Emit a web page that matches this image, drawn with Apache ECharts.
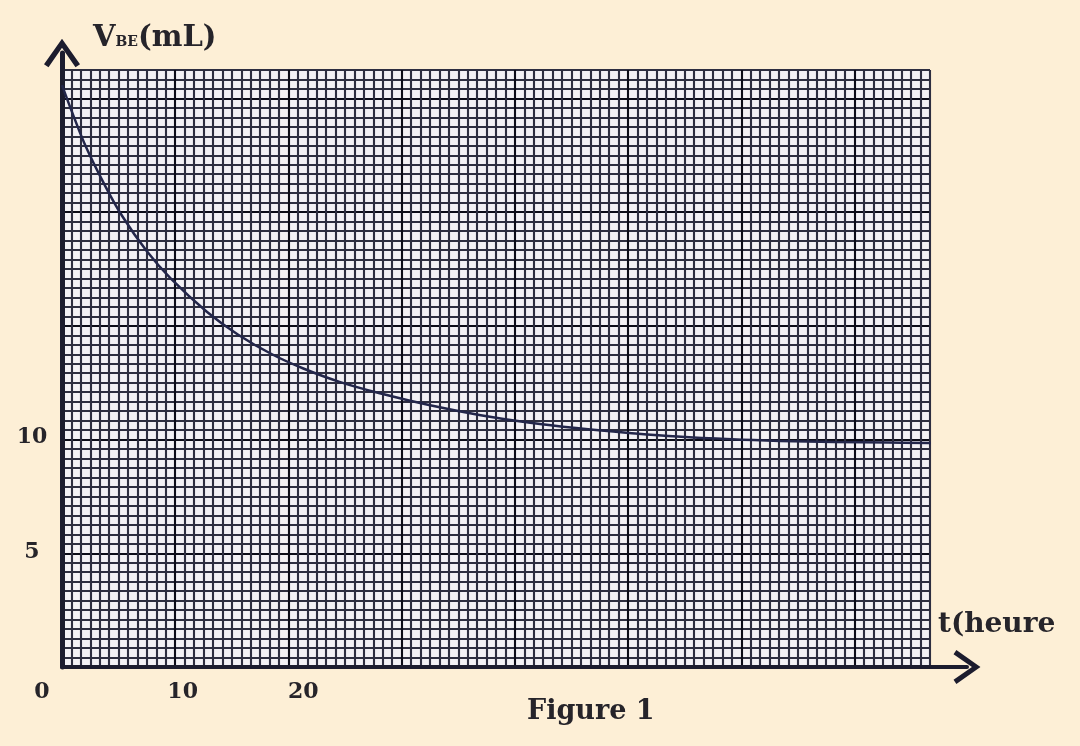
<!DOCTYPE html>
<html>
<head>
<meta charset="utf-8">
<script src="https://cdn.jsdelivr.net/npm/echarts@6/dist/echarts.min.js"></script>
<style>
    html, body { margin: 0; padding: 0; background: #fdefd6; }
    #figure1 { width: 1080px; height: 746px; }
</style>
</head>
<body>
<div id="figure1"></div>
<script>
// courbe V_BE = f(t)
var tValues = [0, 1, 2, 3.5, 5, 7, 9, 12, 14.6, 17.4, 20, 23, 26.5, 30.5, 34.7, 38.8, 43, 47, 51, 55.5, 59.5, 64, 68.5, 72];
var vbeValues = [25.3, 23.9, 22.6, 21.0, 19.6, 18.1, 16.9, 15.45, 14.45, 13.6, 12.98, 12.4, 11.88, 11.38, 10.95, 10.62, 10.37, 10.18, 10.02, 9.9, 9.83, 9.78, 9.76, 9.74];
var xTickLabels = [0, 10, 20];
var yTickLabels = [5, 10];

var serif = 'DejaVu Serif';
var ink = '#26242a';
var axisColor = '#1c1c2e';

// papier millimetre: un trait plus fonce toutes les 12 cases
function paperColors() {
    var c = ['#0c0c18'];
    for (var i = 1; i < 12; i++) c.push('#2e2e40');
    return c;
}

var chart = echarts.init(document.getElementById('figure1'));

var points = tValues.map(function (t, i) {
    return [t, vbeValues[i]];
});

var chevron = 'path://M0,17 L12,0 L24,17 L21,19 L12,6 L3,19 Z';

var option = {
    backgroundColor: '#fdefd6',
    animation: false,
    title: {
        text: 'Figure 1',
        left: 522,
        top: 693,
        textStyle: { fontFamily: serif, fontWeight: 'bold', fontSize: 27, color: ink }
    },
    grid: [{
        // feuille quadrillee
        left: 62, top: 70, width: 868, height: 597,
        show: true, backgroundColor: '#f3f1f5', borderWidth: 0
    }, {
        // axes du graphe
        left: 62, top: 53, right: 113, bottom: 79
    }],
    xAxis: [{
        gridIndex: 0, type: 'value', min: 0, max: 92, interval: 1,
        axisLine: { show: false }, axisTick: { show: false }, axisLabel: { show: false },
        splitLine: { show: true, lineStyle: { color: paperColors(), width: 2.1 } }
    }, {
        gridIndex: 1, type: 'value', min: 0, max: 75, z: 5,
        name: 't(heure',
        nameLocation: 'end',
        nameGap: -29,
        nameTextStyle: {
            fontFamily: serif, fontWeight: 'bold', fontSize: 28, color: ink,
            align: 'left', verticalAlign: 'bottom', padding: [0, 0, 28, 0]
        },
        axisLine: {
            show: true, symbol: ['none', chevron], symbolSize: [34, 32],
            lineStyle: { color: axisColor, width: 4 }
        },
        axisTick: { show: false },
        splitLine: { show: false },
        axisLabel: {
            customValues: xTickLabels,
            margin: 14,
            fontFamily: serif, fontWeight: 'bold', fontSize: 22, color: ink,
            formatter: function (v) {
                return v === 0 ? '{z|0}' : '{n|' + v + '}';
            },
            rich: {
                z: { fontFamily: serif, fontWeight: 'bold', fontSize: 22, color: ink, padding: [0, 40, 0, 0] },
                n: { fontFamily: serif, fontWeight: 'bold', fontSize: 22, color: ink }
            }
        }
    }],
    yAxis: [{
        gridIndex: 0, type: 'value', min: 0, max: 63, interval: 1,
        axisLine: { show: false }, axisTick: { show: false }, axisLabel: { show: false },
        splitLine: { show: true, lineStyle: { color: paperColors(), width: 2.1 } }
    }, {
        gridIndex: 1, type: 'value', min: 0, max: 26.7, z: 5,
        name: '{a|V}{b|BE}{a|(mL)}',
        nameLocation: 'end',
        nameGap: 0,
        nameTextStyle: {
            align: 'left', verticalAlign: 'bottom', padding: [0, 0, 0, 31],
            rich: {
                a: { fontFamily: serif, fontWeight: 'bold', fontSize: 29, color: ink },
                b: { fontFamily: serif, fontWeight: 'bold', fontSize: 14, color: ink, verticalAlign: 'bottom', padding: [0, 0, 4, 0] }
            }
        },
        axisLine: {
            show: true, symbol: ['none', chevron], symbolSize: [36, 32],
            lineStyle: { color: axisColor, width: 5 }
        },
        axisTick: { show: false },
        splitLine: { show: false },
        axisLabel: {
            customValues: yTickLabels,
            margin: 30,
            align: 'center',
            fontFamily: serif, fontWeight: 'bold', fontSize: 22, color: ink
        }
    }],
    series: [{
        type: 'line',
        xAxisIndex: 1,
        yAxisIndex: 1,
        data: points,
        smooth: 0.4,
        showSymbol: false,
        z: 6,
        lineStyle: { color: '#23264a', width: 2.5 }
    }]
};

chart.setOption(option);
</script>
</body>
</html>
